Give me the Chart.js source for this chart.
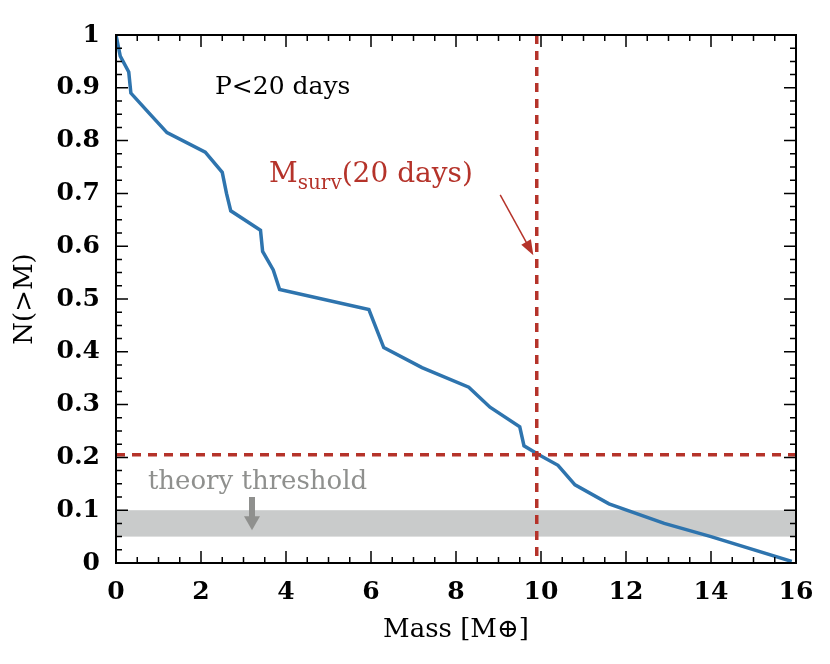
<!DOCTYPE html>
<html><head><meta charset="utf-8">
<script src="https://cdn.jsdelivr.net/npm/chart.js@4"></script>
<style>body{margin:0;background:#fff}#wrap{width:830px;height:664px}</style>
</head><body><div id="wrap"><canvas id="c"></canvas></div>
<script>
const massValues = [0,0.1,0.3,0.35,0.8,1.2,2.1,2.5,2.6,2.7,3.4,3.45,3.7,3.85,5.95,6.3,7.2,8.3,8.8,9.5,9.6,9.95,10.4,10.8,11.6,12.9,14,15.9];
const nValues    = [1,0.96,0.93,0.89,0.85,0.815,0.778,0.74,0.70,0.667,0.63,0.59,0.555,0.518,0.48,0.408,0.37,0.333,0.295,0.258,0.222,0.205,0.185,0.148,0.112,0.075,0.05,0.003];
const xTicks = [0,2,4,6,8,10,12,14,16];
const yTicks = [0,0.1,0.2,0.3,0.4,0.5,0.6,0.7,0.8,0.9,1];
const survMass = 9.9, survN = 0.205;
const bandLow = 0.05, bandHigh = 0.10;
const FONT = '"DejaVu Serif", serif';
const red = '#b5332a';

const overlay = {
  id: 'overlay',
  beforeDatasetsDraw(chart) {
    const {ctx, chartArea: a, scales: {x, y}} = chart;
    ctx.save();
    ctx.fillStyle = '#c9cbcb';
    ctx.fillRect(a.left, y.getPixelForValue(bandHigh), a.right - a.left,
      y.getPixelForValue(bandLow) - y.getPixelForValue(bandHigh));
    ctx.restore();
  },
  afterDatasetsDraw(chart) {
    const {ctx, chartArea: a, scales: {x, y}} = chart;
    ctx.save();
    ctx.strokeStyle = red; ctx.lineWidth = 3.5; ctx.setLineDash([9, 7]);
    ctx.beginPath();
    ctx.moveTo(x.getPixelForValue(survMass), a.top); ctx.lineTo(x.getPixelForValue(survMass), a.bottom);
    ctx.moveTo(a.left, y.getPixelForValue(survN)); ctx.lineTo(a.right, y.getPixelForValue(survN));
    ctx.stroke(); ctx.setLineDash([]);
    ctx.strokeStyle = '#000'; ctx.lineWidth = 2;
    ctx.strokeRect(a.left, a.top, a.right - a.left, a.bottom - a.top);
    ctx.lineWidth = 1.5;
    ctx.beginPath();
    for (let v = 0; v <= 16.001; v += 0.5) {
      const px = x.getPixelForValue(v), L = Math.abs(v % 2) < 1e-6 ? 12 : 6;
      ctx.moveTo(px, a.bottom); ctx.lineTo(px, a.bottom - L);
      ctx.moveTo(px, a.top); ctx.lineTo(px, a.top + L);
    }
    for (let i = 0; i <= 40; i++) {
      const v = i * 0.025, py = y.getPixelForValue(v), L = i % 4 === 0 ? 12 : 6;
      ctx.moveTo(a.left, py); ctx.lineTo(a.left + L, py);
      ctx.moveTo(a.right, py); ctx.lineTo(a.right - L, py);
    }
    ctx.stroke();
    ctx.textBaseline = 'middle';
    ctx.fillStyle = '#000'; ctx.font = '25px ' + FONT;
    ctx.fillText('P<20 days', x.getPixelForValue(2.33), y.getPixelForValue(0.9));
    ctx.fillStyle = red;
    let tx = x.getPixelForValue(3.6), ty = y.getPixelForValue(0.735);
    ctx.font = '28px ' + FONT; ctx.fillText('M', tx, ty); tx += ctx.measureText('M').width;
    ctx.font = '20px ' + FONT; ctx.fillText('surv', tx, ty + 9); tx += ctx.measureText('surv').width;
    ctx.font = '28px ' + FONT; ctx.fillText('(20 days)', tx, ty);
    const x0 = x.getPixelForValue(9.04), y0 = y.getPixelForValue(0.697);
    const x1 = x.getPixelForValue(9.82), y1 = y.getPixelForValue(0.583);
    const ang = Math.atan2(y1 - y0, x1 - x0);
    ctx.strokeStyle = red; ctx.lineWidth = 1.5;
    ctx.beginPath(); ctx.moveTo(x0, y0); ctx.lineTo(x1 - 10 * Math.cos(ang), y1 - 10 * Math.sin(ang)); ctx.stroke();
    ctx.beginPath(); ctx.moveTo(x1, y1);
    ctx.lineTo(x1 - 16 * Math.cos(ang - 0.35), y1 - 16 * Math.sin(ang - 0.35));
    ctx.lineTo(x1 - 16 * Math.cos(ang + 0.35), y1 - 16 * Math.sin(ang + 0.35));
    ctx.closePath(); ctx.fill();
    ctx.fillStyle = '#8f908e'; ctx.font = '26px ' + FONT;
    ctx.fillText('theory threshold', x.getPixelForValue(0.75), y.getPixelForValue(0.152));
    const gx = x.getPixelForValue(3.2), gy0 = y.getPixelForValue(0.125), gy1 = y.getPixelForValue(0.062);
    ctx.fillRect(gx - 3, gy0, 6, gy1 - gy0 - 12);
    ctx.beginPath(); ctx.moveTo(gx - 8, gy1 - 14); ctx.lineTo(gx + 8, gy1 - 14); ctx.lineTo(gx, gy1); ctx.closePath(); ctx.fill();
    ctx.restore();
  }
};

new Chart(document.getElementById('c'), {
  type: 'line',
  data: { datasets: [{
    data: massValues.map((m, i) => ({x: m, y: nValues[i]})),
    borderColor: '#2e74ae', borderWidth: 3.5, pointRadius: 0, tension: 0
  }]},
  options: {
    responsive: true, maintainAspectRatio: false, animation: false,
    layout: { padding: { top: 35, right: 34, bottom: 18, left: 10 } },
    plugins: { legend: { display: false }, tooltip: { enabled: false } },
    scales: {
      x: {
        type: 'linear', min: 0, max: 16,
        afterBuildTicks: s => { s.ticks = xTicks.map(v => ({value: v})); },
        afterFit: s => { s.height = 83; },
        grid: { display: false }, border: { display: false },
        ticks: { color: '#000', font: { family: FONT, size: 25, weight: 'bold' }, padding: 6 },
        title: { display: true, text: 'Mass [M⊕]', color: '#000', font: { family: FONT, size: 26 }, padding: 0 }
      },
      y: {
        min: 0, max: 1,
        afterBuildTicks: s => { s.ticks = yTicks.map(v => ({value: v})); },
        afterFit: s => { s.width = 106; },
        grid: { display: false }, border: { display: false },
        ticks: { color: '#000', font: { family: FONT, size: 25, weight: 'bold' }, padding: 8, callback: v => String(+v.toFixed(1)) },
        title: { display: true, text: 'N(>M)', color: '#000', font: { family: FONT, size: 26 }, padding: 0 }
      }
    }
  },
  plugins: [overlay]
});
</script></body></html>
